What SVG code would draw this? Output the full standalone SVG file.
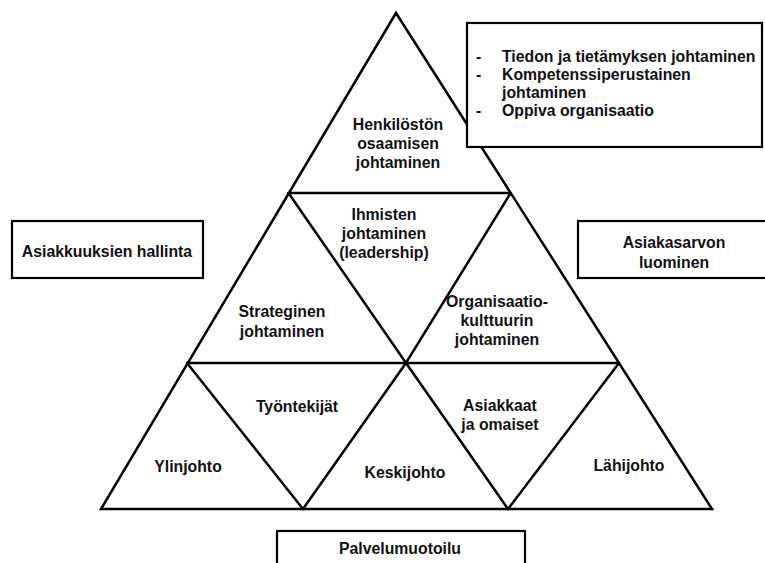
<svg xmlns="http://www.w3.org/2000/svg" width="765" height="563" viewBox="0 0 765 563">
  <style>
    .edge { stroke: #000; stroke-width: 2.5; fill: none; stroke-linecap: round; stroke-linejoin: miter; }
    .box { fill: #fff; stroke: #000; stroke-width: 2.2; }
    .lbl { font-family: "Liberation Sans", Arial, sans-serif; font-weight: bold; font-size: 15.8px; fill: #111; text-anchor: middle; }
    .lst { font-family: "Liberation Sans", Arial, sans-serif; font-weight: bold; font-size: 15.8px; fill: #111; }
  </style>
  <rect width="765" height="563" fill="#fff"/>

  <!-- pyramid outline and inner divisions -->
  <g id="connectors">
    <polygon class="edge" points="396,13 101,509 712,509"/>
    <line class="edge" x1="288.5" y1="193" x2="510.7" y2="193"/>
    <line class="edge" x1="187" y1="363" x2="619" y2="363"/>
    <!-- inverted upper-middle triangle -->
    <polyline class="edge" points="288.5,193 406,363 510.7,193"/>
    <!-- inverted lower triangles -->
    <polyline class="edge" points="187,363 303,509 406,363 508,509 619,363"/>
  </g>

  <g id="henkiloston">
    <text class="lbl" x="398" y="130">Henkilöstön</text>
    <text class="lbl" x="398" y="149">osaamisen</text>
    <text class="lbl" x="398" y="168">johtaminen</text>
  </g>
  <g id="ihmisten">
    <text class="lbl" x="384" y="220">Ihmisten</text>
    <text class="lbl" x="384" y="239">johtaminen</text>
    <text class="lbl" x="384" y="258">(leadership)</text>
  </g>
  <g id="strateginen">
    <text class="lbl" x="282" y="317">Strateginen</text>
    <text class="lbl" x="282" y="337">johtaminen</text>
  </g>
  <g id="organisaatio">
    <text class="lbl" x="497" y="307">Organisaatio-</text>
    <text class="lbl" x="497" y="326">kulttuurin</text>
    <text class="lbl" x="497" y="345">johtaminen</text>
  </g>
  <g id="tyontekijat">
    <text class="lbl" x="297" y="412">Työntekijät</text>
  </g>
  <g id="asiakkaat">
    <text class="lbl" x="500" y="411">Asiakkaat</text>
    <text class="lbl" x="500" y="430">ja omaiset</text>
  </g>
  <g id="ylinjohto">
    <text class="lbl" x="188" y="472">Ylinjohto</text>
  </g>
  <g id="keskijohto">
    <text class="lbl" x="405" y="478">Keskijohto</text>
  </g>
  <g id="lahijohto">
    <text class="lbl" x="629" y="471">Lähijohto</text>
  </g>

  <g id="tietamys">
    <rect class="box" x="467" y="23" width="295" height="124"/>
    <text class="lst" x="476" y="62">-</text>
    <text class="lst" x="502" y="62">Tiedon ja tietämyksen johtaminen</text>
    <text class="lst" x="476" y="80">-</text>
    <text class="lst" x="502" y="80">Kompetenssiperustainen</text>
    <text class="lst" x="502" y="98">johtaminen</text>
    <text class="lst" x="476" y="116">-</text>
    <text class="lst" x="502" y="116">Oppiva organisaatio</text>
  </g>
  <g id="asiakkuuksien">
    <rect class="box" x="12" y="221" width="191" height="57"/>
    <text class="lbl" x="107" y="257">Asiakkuuksien hallinta</text>
  </g>
  <g id="asiakasarvon">
    <rect class="box" x="578" y="221" width="198" height="57"/>
    <text class="lbl" x="674" y="248">Asiakasarvon</text>
    <text class="lbl" x="674" y="268">luominen</text>
  </g>
  <g id="palvelumuotoilu">
    <rect class="box" x="277" y="531" width="248" height="50"/>
    <text class="lbl" x="400" y="554">Palvelumuotoilu</text>
  </g>
</svg>
